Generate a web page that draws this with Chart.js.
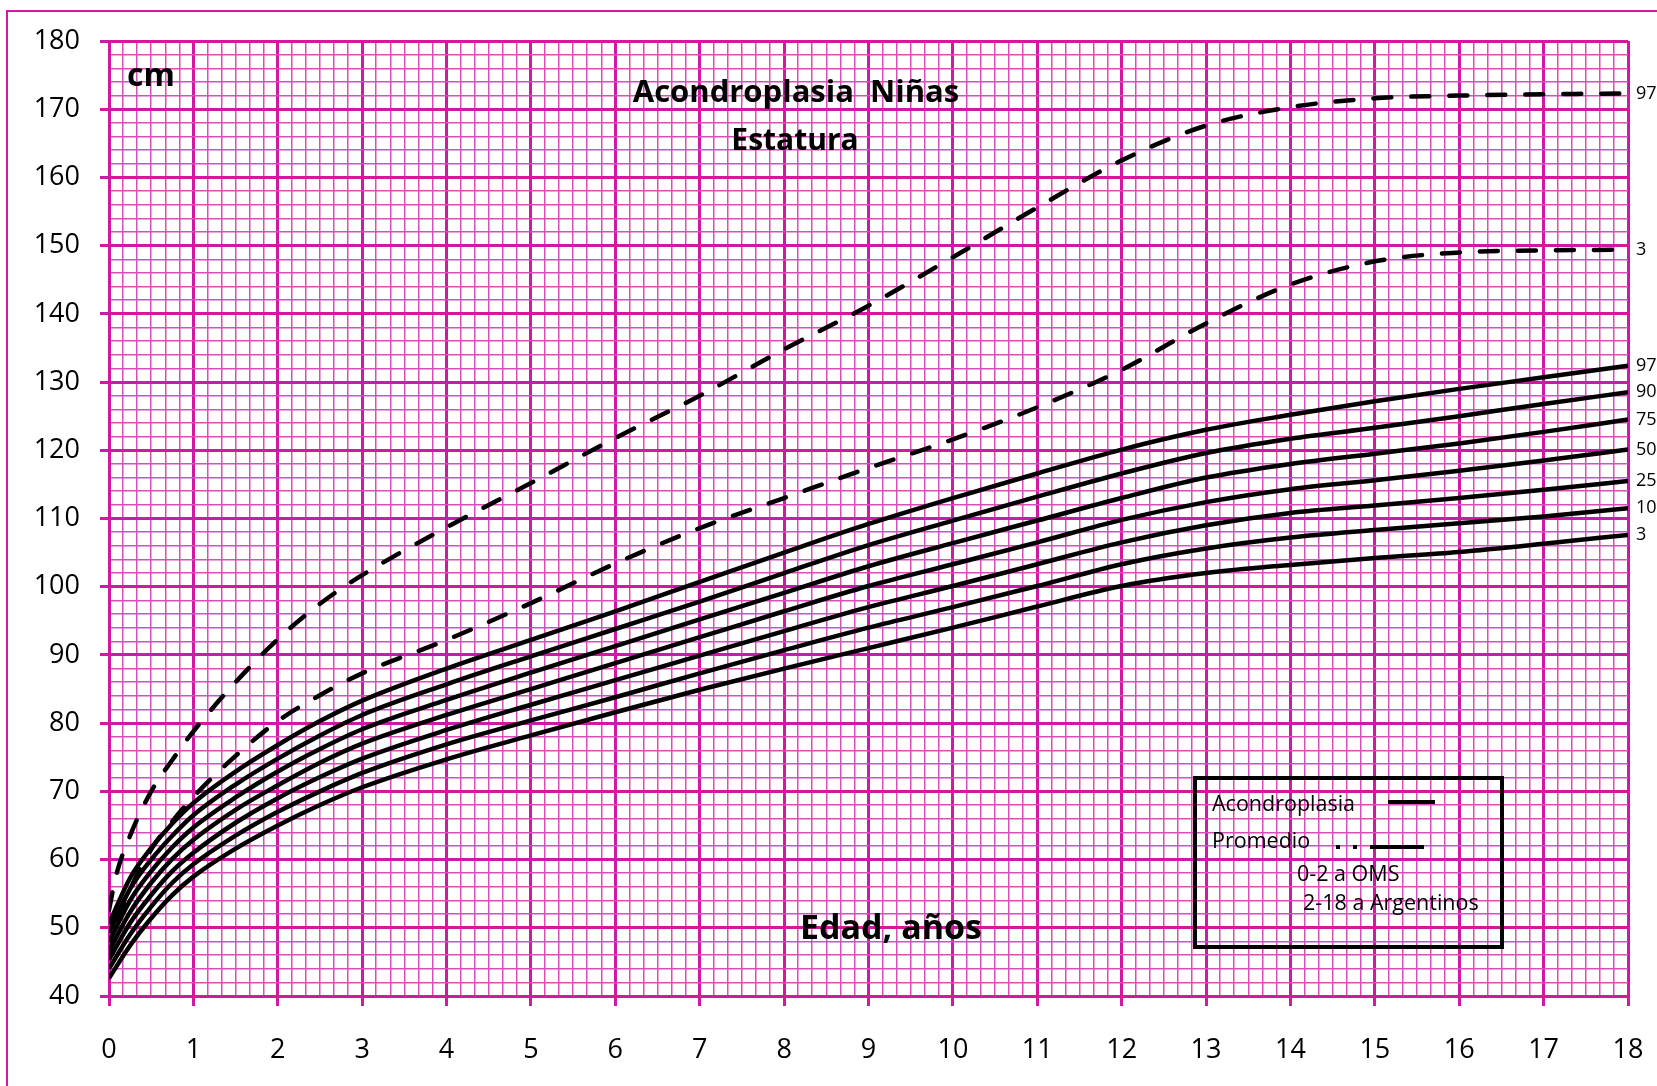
<!DOCTYPE html>
<html>
<head>
<meta charset="utf-8">
<script src="https://cdn.jsdelivr.net/npm/chart.js@4/dist/chart.umd.min.js"></script>
<style>
  html, body { margin: 0; padding: 0; background: #fff; }
  canvas { display: block; }
</style>
</head>
<body>
<canvas id="tallaChart" width="1657" height="1086"></canvas>
<script>
// tick labels
var yearTicks = [0, 1, 2, 3, 4, 5, 6, 7, 8, 9, 10, 11, 12, 13, 14, 15, 16, 17, 18];
var cmTicks = [40, 50, 60, 70, 80, 90, 100, 110, 120, 130, 140, 150, 160, 170, 180];

// acondroplasia percentiles (cm)
var ages = [0, 0.25, 0.5, 0.75, 1, 1.5, 2, 2.5, 3, 4, 5, 6, 7, 8, 9, 10, 11, 12, 13, 14, 15, 16, 17, 18];
var acon3  = [42.6, 47.4, 51.4, 54.8, 57.5, 61.6, 65.0, 68.0, 70.6, 74.7, 78.2, 81.6, 84.9, 88.0, 91.0, 94.0, 97.1, 100.1, 102.0, 103.2, 104.2, 105.1, 106.3, 107.6];
var acon10 = [44.0, 49.0, 53.1, 56.6, 59.3, 63.5, 67.0, 70.0, 72.7, 76.9, 80.4, 83.8, 87.3, 90.7, 94.0, 97.0, 100.1, 103.3, 105.6, 107.2, 108.3, 109.3, 110.3, 111.5];
var acon25 = [45.3, 50.7, 54.8, 58.3, 61.0, 65.4, 69.0, 72.1, 74.8, 79.0, 82.7, 86.3, 89.9, 93.5, 97.0, 100.1, 103.3, 106.5, 109.0, 110.8, 111.9, 113.0, 114.2, 115.5];
var acon50 = [46.6, 52.3, 56.6, 60.1, 62.9, 67.3, 70.9, 74.2, 77.0, 81.2, 85.0, 88.8, 92.6, 96.4, 100.1, 103.3, 106.5, 109.8, 112.4, 114.3, 115.6, 117.0, 118.5, 120.1];
var acon75 = [47.9, 54.0, 58.3, 61.8, 64.7, 69.1, 72.9, 76.2, 79.1, 83.4, 87.4, 91.3, 95.2, 99.1, 103.0, 106.4, 109.7, 113.0, 116.0, 118.0, 119.5, 121.0, 122.7, 124.5];
var acon90 = [49.3, 55.7, 60.0, 63.5, 66.5, 71.0, 74.8, 78.2, 81.2, 85.7, 89.8, 93.8, 97.8, 102.0, 106.1, 109.7, 113.2, 116.6, 119.6, 121.7, 123.3, 125.0, 126.8, 128.5];
var acon97 = [50.6, 57.3, 61.7, 65.3, 68.3, 72.9, 76.8, 80.3, 83.3, 88.0, 92.2, 96.4, 100.7, 105.0, 109.2, 113.0, 116.6, 120.1, 123.0, 125.2, 127.2, 129.0, 130.7, 132.4];

// average population (0-2 a OMS, 2-18 a Argentinos)
var popAges = [0, 0.083, 0.25, 0.5, 0.75, 1, 1.5, 2, 2.5, 3, 4, 5, 6, 7, 8, 9, 10, 11, 12, 13, 14, 15, 16, 17, 18];
var pop3  = [45.6, 49.8, 55.6, 61.5, 65.6, 69.2, 75.2, 80.3, 84.1, 87.3, 92.2, 97.6, 103.4, 108.6, 113.0, 117.4, 121.6, 126.3, 131.8, 138.6, 144.3, 147.7, 149.0, 149.3, 149.4];
var pop97 = [52.6, 57.6, 63.5, 70.0, 74.6, 78.8, 86.0, 92.3, 97.5, 101.7, 108.7, 115.2, 121.8, 128.0, 134.8, 141.2, 148.3, 155.6, 162.5, 167.6, 170.3, 171.6, 172.0, 172.2, 172.3];

var PINK = '#d118a2';
var PINK_MINOR = '#db4db8';
var FONT = "'Open Sans', sans-serif";

function pts(xs, ys) {
  return ys.map(function(v, i) { return {x: xs[i], y: v}; });
}

function isMajorX(v) { return Math.abs(v - Math.round(v)) < 1e-6; }
function isMajorY(v) { return Math.abs(v % 10) < 1e-6; }

function acon(label, data) {
  return {
    label: label, data: pts(ages, data),
    borderColor: '#000', borderWidth: 4.5, pointRadius: 0,
    cubicInterpolationMode: 'monotone', fill: false
  };
}
function prom(label, data) {
  return {
    label: label, data: pts(popAges, data),
    borderColor: '#000', borderWidth: 4.5, pointRadius: 0,
    borderDash: [18, 20], borderCapStyle: 'round',
    cubicInterpolationMode: 'monotone', fill: false
  };
}

var decor = {
  id: 'decor',
  beforeDraw: function(chart) {
    var c = chart.ctx;
    c.save();
    c.fillStyle = '#fff';
    c.fillRect(0, 0, chart.width, chart.height);
    c.strokeStyle = PINK;
    c.lineWidth = 2;
    c.beginPath();
    c.moveTo(7, chart.height);
    c.lineTo(7, 11);
    c.lineTo(chart.width, 11);
    c.stroke();
    c.restore();
  },
  afterDatasetsDraw: function(chart) {
    var c = chart.ctx;
    var xs = chart.scales.x, ys = chart.scales.y;
    c.save();
    c.fillStyle = '#000';

    // percentile labels at the right end of each curve
    c.font = '18px ' + FONT;
    c.textAlign = 'left';
    c.textBaseline = 'middle';
    chart.data.datasets.forEach(function(ds) {
      var last = ds.data[ds.data.length - 1];
      c.fillText(ds.label, xs.getPixelForValue(last.x) + 8, ys.getPixelForValue(last.y));
    });

    // titles
    c.textAlign = 'center';
    c.font = 'bold 31px ' + FONT;
    c.fillText('Acondroplasia  Niñas', 796, 93);
    c.font = 'bold 30px ' + FONT;
    c.fillText('Estatura', 795, 141);
    c.font = 'bold 34px ' + FONT;
    c.fillText('Edad, años', 891, 929);
    c.textAlign = 'left';
    c.font = 'bold 32px ' + FONT;
    c.fillText('cm', 127, 77);

    // legend box
    c.strokeStyle = '#000';
    c.lineWidth = 4;
    c.strokeRect(1195, 778, 307, 169);
    c.font = '21.5px ' + FONT;
    c.fillText('Acondroplasia', 1212, 805);
    c.fillText('Promedio', 1212, 842);
    c.fillText('0-2 a OMS', 1297, 875);
    c.fillText('2-18 a Argentinos', 1303, 904);
    c.lineWidth = 4;
    c.beginPath();
    c.moveTo(1388, 802); c.lineTo(1435, 802);
    c.moveTo(1370, 847); c.lineTo(1424, 847);
    c.stroke();
    c.fillRect(1336, 845, 4, 4);
    c.fillRect(1353, 845, 4, 4);
    c.restore();
  }
};

var ctx = document.getElementById('tallaChart').getContext('2d');
new Chart(ctx, {
  type: 'line',
  data: {
    datasets: [
      acon('97', acon97), acon('90', acon90), acon('75', acon75), acon('50', acon50),
      acon('25', acon25), acon('10', acon10), acon('3', acon3),
      prom('97', pop97), prom('3', pop3)
    ]
  },
  options: {
    responsive: false,
    devicePixelRatio: 1,
    animation: false,
    layout: { padding: { left: 6, top: 41, right: 29, bottom: 0 } },
    plugins: { legend: { display: false }, tooltip: { enabled: false }, title: { display: false } },
    scales: {
      x: {
        type: 'linear', min: yearTicks[0], max: yearTicks[yearTicks.length - 1],
        afterBuildTicks: function(scale) {
          var t = [];
          for (var i = 0; i <= yearTicks[yearTicks.length - 1] * 6; i++) t.push({value: i / 6});
          scale.ticks = t;
        },
        afterFit: function(scale) {
          scale.height = 90;
          scale.paddingLeft = 0;
          scale.paddingRight = 0;
        },
        ticks: {
          autoSkip: false, maxRotation: 0, padding: 28, color: '#000',
          font: { family: FONT, size: 27 },
          callback: function(v) {
            var r = Math.round(v);
            return isMajorX(v) && yearTicks.indexOf(r) >= 0 ? String(r) : '';
          }
        },
        grid: {
          tickLength: 10,
          color: function(c) { return c.tick && isMajorX(c.tick.value) ? PINK : PINK_MINOR; },
          lineWidth: function(c) { return c.tick && isMajorX(c.tick.value) ? 3 : 1.5; },
          tickColor: function(c) { return c.tick && isMajorX(c.tick.value) ? PINK : 'rgba(0,0,0,0)'; }
        },
        border: { color: PINK, width: 3 }
      },
      y: {
        type: 'linear', min: cmTicks[0], max: cmTicks[cmTicks.length - 1],
        afterBuildTicks: function(scale) {
          var t = [];
          for (var v = cmTicks[0]; v <= cmTicks[cmTicks.length - 1]; v += 2) t.push({value: v});
          scale.ticks = t;
        },
        afterFit: function(scale) {
          scale.width = 103;
          scale.paddingTop = 0;
          scale.paddingBottom = 0;
        },
        ticks: {
          autoSkip: false, padding: 20, color: '#000',
          font: { family: FONT, size: 27 },
          callback: function(v) { return isMajorY(v) && cmTicks.indexOf(v) >= 0 ? String(v) : ''; }
        },
        grid: {
          tickLength: 9,
          color: function(c) { return c.tick && isMajorY(c.tick.value) ? PINK : PINK_MINOR; },
          lineWidth: function(c) { return c.tick && isMajorY(c.tick.value) ? 3 : 1.5; },
          tickColor: function(c) { return c.tick && isMajorY(c.tick.value) ? PINK : 'rgba(0,0,0,0)'; }
        },
        border: { color: PINK, width: 3 }
      }
    }
  },
  plugins: [decor]
});
</script>
</body>
</html>
